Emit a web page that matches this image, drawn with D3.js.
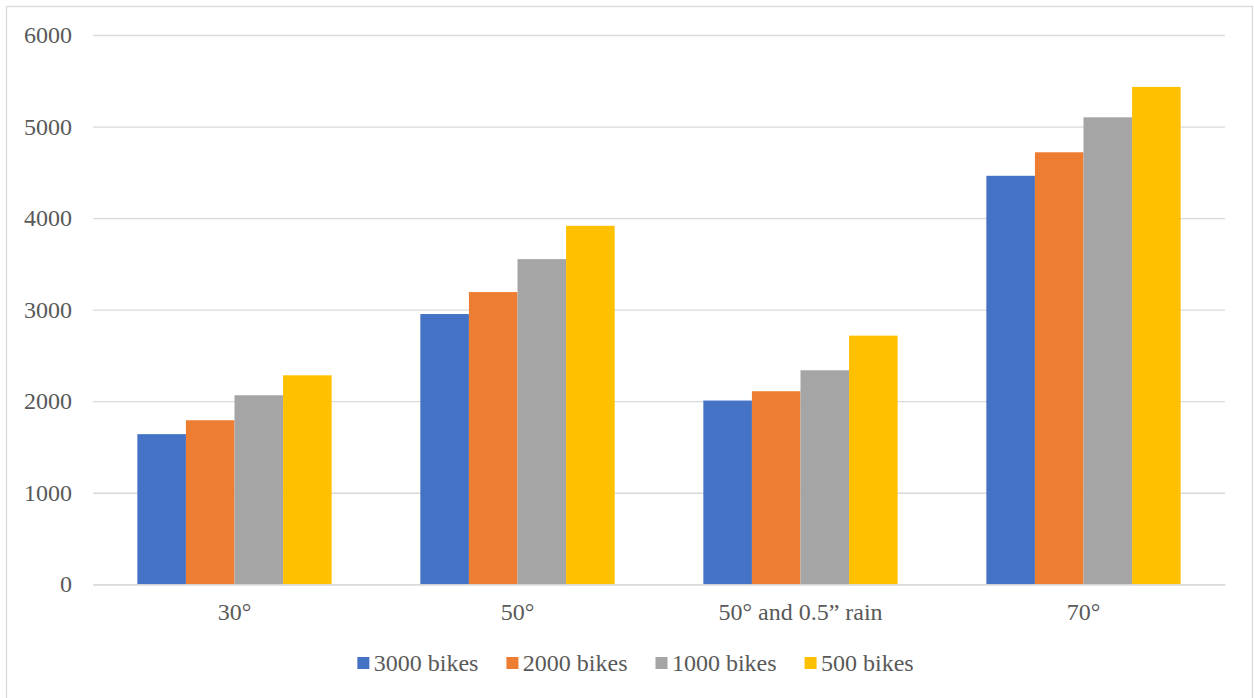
<!DOCTYPE html>
<html>
<head>
<meta charset="utf-8">
<script src="https://cdn.jsdelivr.net/npm/d3@7"></script>
<style>
  html, body { margin: 0; padding: 0; background: #ffffff; }
  svg { display: block; font-family: "Liberation Serif", "Times New Roman", serif; }
</style>
</head>
<body>
<svg id="chart" width="1254" height="698"></svg>
<script>
// Categories (temperature / weather conditions)
const categories = ["30°", "50°", "50° and 0.5” rain", "70°"];

// Series names and values, one array per series
const seriesNames = ["3000 bikes", "2000 bikes", "1000 bikes", "500 bikes"];
const bikes3000 = [1640, 2952, 2007, 4462];
const bikes2000 = [1792, 3192, 2109, 4719];
const bikes1000 = [2065, 3552, 2338, 5101];
const bikes500  = [2283, 3916, 2716, 5433];
const seriesValues = [bikes3000, bikes2000, bikes1000, bikes500];

// Y-axis ticks
const yTicks = [0, 1000, 2000, 3000, 4000, 5000, 6000];

const colors = ["#4472c4", "#ed7d31", "#a5a5a5", "#ffc000"];
const textColor = "#595959";
const gridColor = "#d9d9d9";
const fontSize = 24;
const fontFamily = "'Liberation Serif', 'Times New Roman', serif";

const svg = d3.select("#chart");

// Chart area border
svg.append("rect")
  .attr("x", 6.5).attr("y", 6.5)
  .attr("width", 1246).attr("height", 700)
  .attr("fill", "#ffffff")
  .attr("stroke", gridColor)
  .attr("stroke-width", 1.3);

const plot = { left: 93, right: 1225, top: 35, bottom: 584.3 };

const x0 = d3.scaleBand()
  .domain(categories)
  .range([plot.left, plot.right])
  .paddingInner(0.3134)
  .paddingOuter(0.3134 / 2);

const x1 = d3.scaleBand()
  .domain(seriesNames)
  .range([0, x0.bandwidth()])
  .padding(0);

const y = d3.scaleLinear()
  .domain([0, 6000])
  .range([plot.bottom, plot.top]);

// Horizontal gridlines
svg.append("g")
  .attr("transform", `translate(${plot.left},0)`)
  .call(d3.axisLeft(y).tickValues(yTicks).tickSize(-(plot.right - plot.left)).tickFormat(""))
  .call(g => g.select(".domain").remove())
  .call(g => g.selectAll("line").attr("stroke", gridColor).attr("stroke-width", 1.3));

// Y-axis labels
svg.append("g")
  .attr("transform", `translate(${plot.left},0)`)
  .call(d3.axisLeft(y).tickValues(yTicks).tickSize(0).tickPadding(21).tickFormat(d3.format("d")))
  .call(g => g.select(".domain").remove())
  .call(g => g.selectAll("text")
    .attr("fill", textColor)
    .style("font-size", fontSize + "px")
    .style("font-family", fontFamily));

// Bars
const groups = svg.append("g")
  .selectAll("g")
  .data(categories)
  .join("g")
  .attr("transform", d => `translate(${x0(d)},0)`);

groups.selectAll("rect")
  .data((d, i) => seriesNames.map((s, j) => ({ series: s, value: seriesValues[j][i], color: colors[j] })))
  .join("rect")
  .attr("x", d => x1(d.series))
  .attr("width", x1.bandwidth())
  .attr("y", d => y(d.value))
  .attr("height", d => y(0) - y(d.value))
  .attr("fill", d => d.color);

// X axis baseline and category labels
svg.append("g")
  .attr("transform", `translate(0,${plot.bottom})`)
  .call(d3.axisBottom(x0).tickSize(0).tickPadding(18.7))
  .call(g => g.select(".domain").attr("stroke", gridColor).attr("stroke-width", 1.3))
  .call(g => g.selectAll("text")
    .attr("fill", textColor)
    .style("font-size", fontSize + "px")
    .style("font-family", fontFamily));

// Legend, centred under the plot
const legend = svg.append("g").attr("class", "legend");
const sq = 12, gapText = 4.4, gapItem = 28;
const items = legend.selectAll("g")
  .data(seriesNames)
  .join("g");

items.append("rect")
  .attr("width", sq).attr("height", sq)
  .attr("y", 657)
  .attr("fill", (d, i) => colors[i]);

items.append("text")
  .attr("y", 671)
  .attr("fill", textColor)
  .style("font-size", fontSize + "px")
  .style("font-family", fontFamily)
  .text(d => d);

const widths = [];
items.each(function () {
  widths.push(d3.select(this).select("text").node().getComputedTextLength());
});
const total = widths.reduce((a, w) => a + sq + gapText + w, 0) + gapItem * (widths.length - 1);
let start = 635.5 - total / 2;
items.each(function (d, i) {
  const g = d3.select(this);
  g.select("rect").attr("x", start);
  g.select("text").attr("x", start + sq + gapText);
  start += sq + gapText + widths[i] + gapItem;
});
</script>
</body>
</html>
